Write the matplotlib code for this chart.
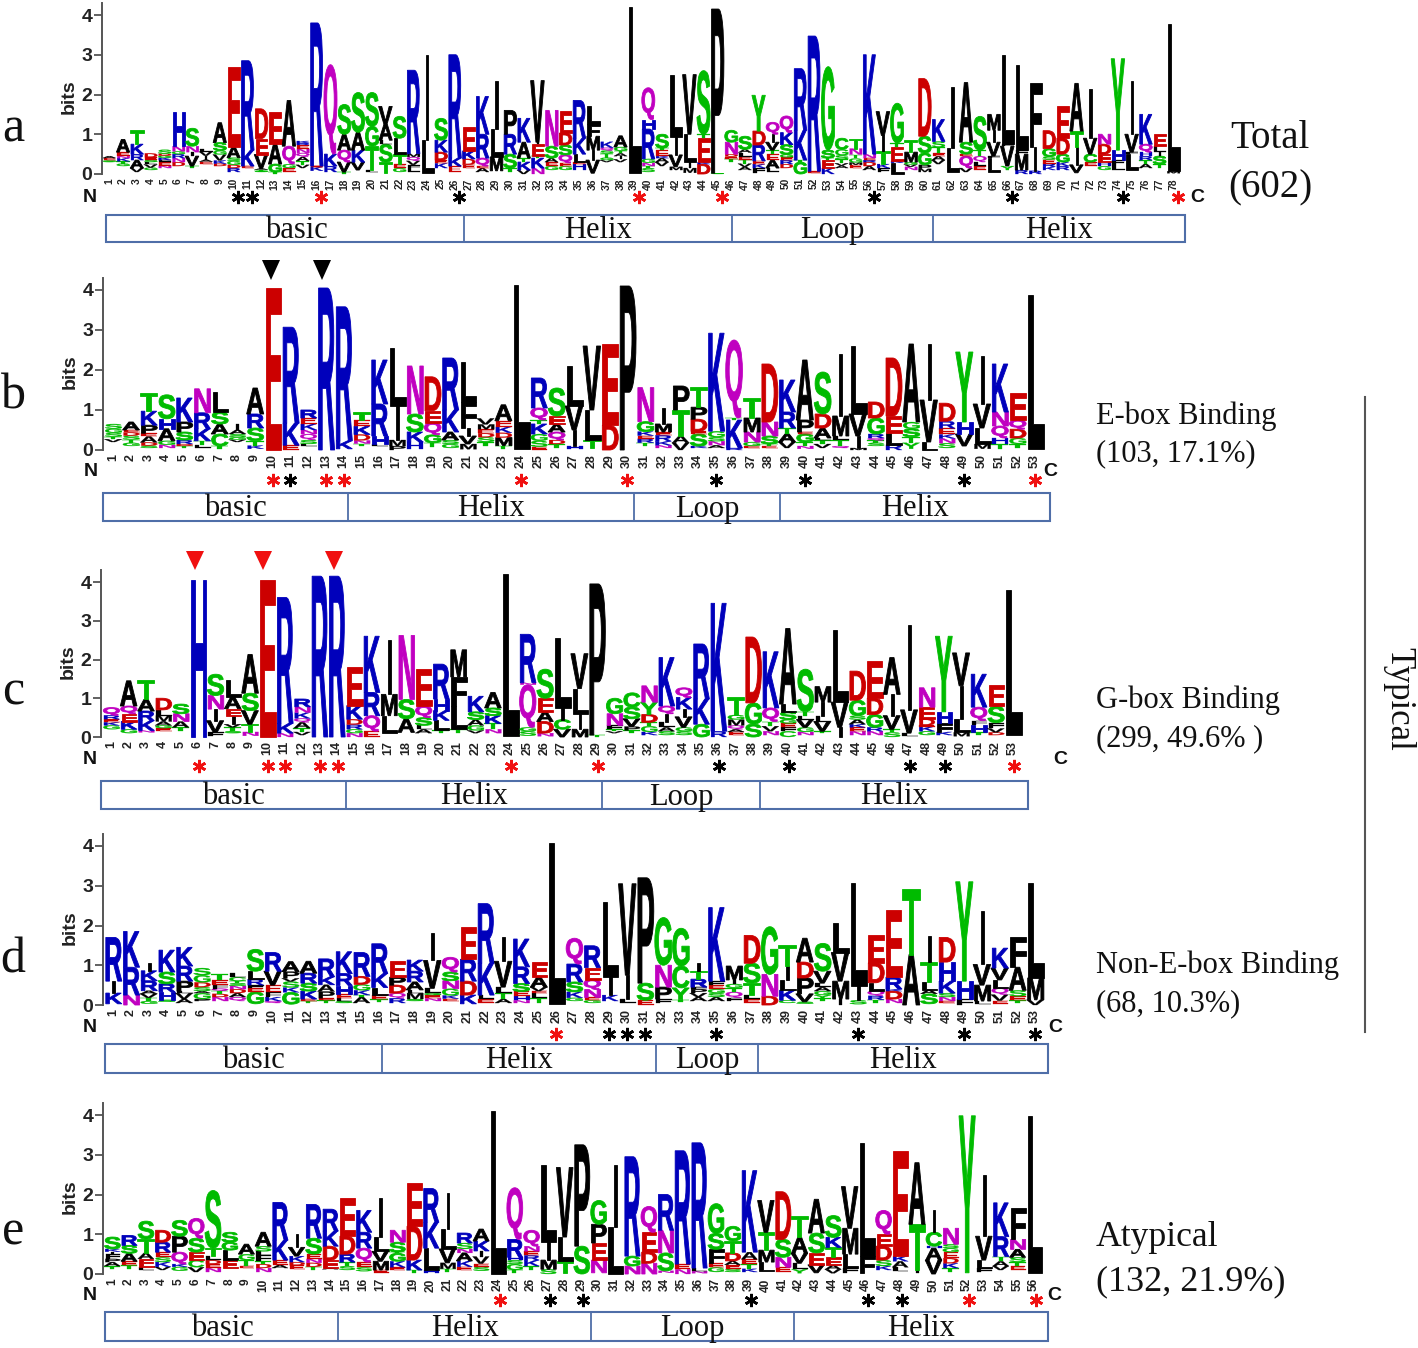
"""
bHLH sequence logos, five panels (a-e)
"""
import matplotlib
matplotlib.use('Agg')
import matplotlib.pyplot as plt
from matplotlib.font_manager import FontProperties
from matplotlib.patches import PathPatch, Rectangle, Polygon
from matplotlib.path import Path
from matplotlib.textpath import TextPath
from matplotlib.transforms import Affine2D
import numpy as np

# one string per column, letters listed bottom to top with their height in bits
# "_" is a gap where the tiny letters cannot be read
panel_a = [
    "_.3 S.04 E.06 A.05", "_.2 G.06 T.06 K.08 N.05 E.1 A.32", "_.05 V.1 A.2 R.15 K.25 T.35",
    "_.1 G.06 V.08 L.06 S.06 E.06 D.1", "_.15 N.06 E.08 F.06 K.06 G.05 D.05 S.1",
    "_.2 D.1 N.1 R.1 G.07 N.13 H.85", "_.15 T.05 V.25 I.1 N.15 S.45", "_.25 E.06 A.05 I.1 V.1 L.08",
    "_.2 D.06 K.08 V.15 G.1 S.2 A.5", "_.05 R.1 D.08 G.1 S.08 A.27 E2.0", "_.15 E.05 K.4 R2.25",
    "_.05 S.03 T.03 A.03 V.35 E.4 D.75", "T.05 G.2 A.5 E.8", "_.05 E.1 G.1 Q.45 A1.15",
    "_.15 V.08 T.1 A.1 Q.1 N.1 E.1 R.05 K.05", "_.08 K.1 E.02 R3.6", "_.05 R.15 K.3 Q2.25",
    "T.05 V.25 Q.3 A.4 S.75", "_.1 V.2 K.3 A.45 S1.0", "_.05 L.05 T.6 G.5 S.85",
    "_.03 T.27 S.45 L.1 A.4 V.45", "_.05 G.1 E.1 T.25 L.4 S.55", "_.05 L.08 F.1 V.1 Q.1 M.08 R2.1",
    "_.03 L.82 I2.15", "_.15 K.12 E.08 D.2 K.3 S.55", "_.05 E.15 K.2 R2.6", "_.15 E.08 D.15 K.2 E.6",
    "_.05 A.1 E.05 Q.2 R.6 K.95", "_.08 M.35 L.7 I1.2", "_.05 T.1 S.35 R.5 P.6", "V.1 K.2 T.1 A.4 K.6",
    "N.15 K.25 T.05 E.3 I.05 V1.55", "_.1 G.1 E.1 A.1 S.3 N.9", "_.1 G.1 E.08 Q.2 S.25 D.3 E.55",
    "_.1 H.15 E.05 L.2 K.4 R.95", "_.02 V.33 I.25 M.35 F.3 L.45", "_.3 V.05 G.06 T.1 S.08 Q.07 K.15",
    "_.3 V.07 I.08 A.07 T.06 G.1 A.28", "_.03 L4.17", "_.05 S.1 T.05 N.08 G.1 R.75 H.24 Q.8",
    "_.2 V.1 A.1 K.05 E.15 T.05 S.35", "_.1 M.08 V.3 I.45 L1.55", "_.03 M.12 I.15 L.7 V1.5",
    "D.25 K.05 E.6 T.1 S1.6", "G.02 P4.13", "_.3 T.08 E.06 D.06 N.3 G.3",
    "_.1 A.08 V.08 T.1 E.08 L.1 A.08 S.33", "_.03 F.12 K.1 E.08 R.4 D.35 Y.9", "_.05 L.1 A.2 E.15 T.1 V.2 I.2 Q.3",
    "_.15 D.1 R.1 E.07 G.07 S.25 K.3 Q.42", "G.3 T.05 K.75 R1.55", "_.02 E.05 R3.4", "K.15 E.2 T.05 S.2 G2.1",
    "_.15 A.06 V.06 T.1 S.1 G.15 C.28", "_.15 E.08 M.06 G.1 T.1 N.15 T.25", "_.1 A.1 D.1 R.05 E.05 N.1 K2.5",
    "_.05 F.1 K.1 T.32 I.4 V.6", "L.28 K.05 E.35 T.1 G1.0", "_.1 N.08 V.06 G.06 M.25 T.3",
    "_.05 M.08 P.1 G.3 S.42 D1.45", "_.25 V.1 A.1 E.07 T.15 S.15 K.55", "_.05 L.6 I1.55",
    "_.05 V.1 Q.3 E.05 S.3 A1.5", "_.1 E.1 L.1 Q.15 T.15 S.85", "_.05 L.35 F.05 V.35 I.3 M.4",
    "_.1 Y.1 V.5 F.05 L2.25", "R.1 M.4 F.1 L2.15", "R.08 I.6 F1.6", "_.1 K.08 R.08 E.1 S.08 G.2 D.45",
    "_.1 R.1 K.1 G.2 D.4 E.8", "_.03 V.2 I.45 T.4 A1.2", "_.2 E.1 C.2 V.4 I1.25",
    "_.1 G.1 H.1 E.2 D.25 N.25", "_.1 L.15 F.1 H.25 Y2.3", "_.1 L.4 F.05 V.45 I1.35",
    "_.15 A.1 T.1 R.1 H.1 Q.2 K.75", "_.15 T.1 S.2 I.1 L.15 E.3", "_.02 M.05 L3.7",
]

panel_b = [
    "_.2 V.07 T.06 S.1 G.1 S.12", "_.1 G.08 T.08 S.1 D.08 E.06 A.2", "_.05 S.06 D.08 A.15 E.08 P.2 K.35 T.45",
    "_.05 N.08 G.1 A.3 H.25 S.6", "_.05 T.05 D.05 R.1 S.2 P.25 K.6", "_.05 L.08 T.1 K.3 R.4 N.6",
    "_.03 T.07 C.3 A.25 S.3 L.5", "_.2 V.06 G.06 S.08 A.1 I.15", "_.03 K.08 T.12 S.32 R.35 A.65",
    "E4.05", "E.12 K.55 R2.4", "_.1 L.05 S.1 Q.15 N.1 K.15 E.15 R.2", "R4.05", "_.03 K.2 R3.35",
    "_.1 T.06 N.08 D.15 K.2 E.15 T.2", "_.1 L.05 H.2 R.8 K1.1", "P.1 M.15 I.85 L1.45",
    "_.03 H.17 K.25 S.45 N1.2", "_.08 T.1 G.2 Q.3 E.3 D.85", "_.05 G.1 S.1 A.2 K.55 R1.3",
    "_.02 M.13 V.2 I.2 F.65 L1.0", "_.1 T.1 S.12 D.1 E.1 M.12 V.15", "_.03 T.08 M.2 D.12 K.15 E.15 A.4",
    "_.03 L4.1", "E.08 S.15 G.17 K.25 T.1 Q.3 R.75", "_.05 T.1 D.1 Q.2 A.2 E.2 S.7", "_.03 H.07 I.4 V.6 L1.0",
    "_.05 T.2 L.75 V1.6", "D.62 E2.03", "P4.1", "_.1 T.08 R.1 E.08 K.1 G.25 N.85",
    "_.05 N.07 K.1 R.15 E.08 M.2 I.4", "V.18 A.17 T.65 P.6", "_.05 K.05 S.3 E.07 D.3 P.3 T.5",
    "_.05 A.07 N.1 S.1 G.15 K2.45", "R.05 K.7 T.05 Q1.95", "_.05 E.05 G.1 N.25 M.35 T.5",
    "_.05 E.05 T.05 S.2 N.35 D1.45", "_.05 V.15 A.2 T.15 R.4 K.8", "_.03 N.07 T.1 G.2 E.05 P.3 A1.5",
    "_.05 V.1 T.1 L.05 A.25 D.35 S1.05", "_.05 Q.05 T.15 L.1 M.5 I1.55", "M.05 I.3 V.55 L1.7",
    "_.1 S.08 T.06 Q.06 R.1 G.4 D.4", "R.13 L.3 E.42 D1.45", "_.03 Y.15 T.15 S.2 G.17 A1.95",
    "L.2 V1.05 I1.4", "_.05 S.12 N.12 K.1 E.15 R.18 D.45", "_.1 V.3 H.3 Y1.75", "_.03 M.12 L.4 V.6 I1.2",
    "_.03 T.12 H.15 Q.3 N.35 K1.2", "_.05 T.1 G.15 D.22 Q.23 E.67", "_.03 L3.85",
]

panel_c = [
    "_.2 G.1 K.08 E.08 R.1 Q.2", "_.1 G.1 K.2 E.2 Q.2 A.65", "_.12 N.05 K.25 R.25 A.3 T.5",
    "_.15 E.08 G.07 A.1 M.15 L.15 D.3", "_.15 T.1 A.15 N.2 S.25", "H4.05", "_.02 F.1 V.3 I.3 N.35 S.55",
    "_.1 S.05 T.1 V.08 I.2 E.2 A.3 L.45", "_.03 N.1 T.2 V.35 S.45 A1.0", "E4.05", "N.1 K.25 R3.25",
    "_.05 V.08 T.1 A.15 Q.1 K.15 N.15 R.2", "R4.15", "R4.15", "N.1 G.1 R.12 D.14 K.35 E1.0",
    "E.15 Q.4 R.6 K1.45", "_.1 L.45 M.55 I1.4", "_.12 A.35 S.5 N1.65", "_.1 A.1 L.1 S.2 Q.3 E.95",
    "_.1 T.08 L.25 K.25 H.3 R.9", "_.1 T.1 L.6 F.75 M.7", "_.1 V.07 G.13 A.15 S.2 K.4",
    "_.1 N.1 T.15 K.2 S.2 A.4", "_.02 L4.18", "_.03 S.12 G.1 Q1.1 N.05 R1.25", "_.02 N.08 D.3 A.25 E.35 S.75",
    "V.2 C.25 I.3 L1.8", "M.2 I.4 L.65 V.9", "T.05 P3.9", "_.1 V.05 T.05 F.1 N.3 G.4",
    "_.1 T.07 P.1 V.2 S.3 C.37", "_.05 K.08 G.15 T.1 D.2 Y.32 N.42", "_.05 S.1 A.1 L.15 I.2 Q.2 K1.25",
    "_.05 S.1 G.1 V.27 I.2 K.3 Q.25", "G.33 K.65 R1.42", "R.15 K3.3", "_.05 E.08 A.07 Q.1 M.15 G.12 T.45",
    "S.33 G.55 D1.7", "_.05 N.1 V.13 T.12 Q.35 K1.45", "C.15 F.1 E.1 G.1 S.2 L.2 A1.95",
    "_.05 N.08 G.12 V.2 L.1 T.1 S1.1", "_.1 T.05 V.25 L.15 I.35 M.4", "I.25 V.65 L1.85",
    "_.05 N.1 E.1 K.08 A.12 S.1 G.4 D.75", "_.05 N.1 R.1 G.33 D.42 E.95", "S.12 T.08 V.35 I.55 A.95",
    "_.02 L.08 V.6 I2.2", "_.05 G.1 K.12 E.03 D.17 E.3 N.5", "_.05 K.08 F.22 H.3 Y1.95",
    "_.02 M.1 L.35 I.85 V.85", "_.05 T.07 H.2 F.1 Q.35 K.85", "_.05 D.07 V.1 F.15 S.42 E.55", "_.05 L3.75",
]

panel_d = [
    "_.03 K.27 I.3 R1.1", "N.25 R.7 K.9", "_.03 G.07 T.08 V.1 A.08 R.25 K.25 I.2", "_.08 S.05 H.2 R.2 S.3 K.55",
    "_.05 A.1 V.15 L.05 P.25 R.38 K.47", "_.1 P.05 G.15 A.05 S.1 D.12 G.18 S.18",
    "_.1 N.1 D.08 T.08 Q.05 F.1 E.12 T.15", "_.1 Q.1 A.1 D.1 N.08 S.07 T.05 C.1 L.1",
    "_.03 G.3 E.1 F.07 R.15 L.2 S.55", "_.05 Q.05 K.1 F.12 E.18 V.35 R.47", "_.02 G.3 K.12 S.15 V.08 P.17 A.25",
    "_.05 T.05 E.05 K.2 S.2 R.25 A.3", "_.05 T.07 E.05 P.17 A.17 K.2 R.45", "_.05 S.05 L.07 E.1 H.22 R.3 K.55",
    "_.05 A.15 T.05 K.12 G.15 D.2 R.6", "_.07 T.07 E.1 L.2 K.35 R.75", "_.05 R.12 Q.13 D.2 P.2 E.4",
    "_.1 S.05 M.15 L.08 A.2 R.27 K.28", "_.1 N.07 E.08 G.05 L.12 V.7 I.7", "_.1 E.06 K.08 G.17 N.2 S.22 Q.37",
    "_.03 K.22 D.35 R.55 E.8", "_.05 E.1 L.1 K.8 R1.5", "_.05 A.1 T.15 L.15 V.65 I.62",
    "_.05 N.07 H.1 E.12 S.2 R.42 K.7", "_.05 T.12 L.13 E.05 V.1 A.25 E.38", "_.03 L4.05",
    "_.1 G.08 K.15 S.25 R.45 Q.65", "_.05 G.07 E.07 N.2 Q.25 E.3 R.55", "_.1 K.15 I.45 L1.9", "_.05 L.1 I.6 V2.3",
    "E.12 S.43 P2.65", "_.05 F.1 P.3 N.55 G1.2", "_.07 T.06 Y.3 C.55 G.95", "_.1 A.1 V.1 P.1 F.05 R.2 T.2 I.2",
    "_.1 A.1 S.1 G.1 E.1 F.1 K1.85", "_.1 F.08 Q.15 T.1 G.1 I.1 M.35", "_.05 E.1 L.1 T.3 S.5 D.7",
    "D.22 N.55 G1.2", "_.05 C.07 K.25 L.25 I.35 T.55", "_.03 S.05 V.2 P.4 D.4 A.6",
    "_.1 T.07 Y.08 G.1 A.1 L.1 V.3 S.7", "I.15 M.45 V.72 L.75", "_.02 S.1 I.35 L2.6",
    "_.05 T.08 R.1 Q.13 L.2 D.5 E.7", "_.05 N.1 D.2 K.05 R.3 E1.7", "A1.27 T1.65", "_.03 S.25 A.1 L.2 T.5 I.65",
    "_.05 E.05 N.1 S.1 K.3 H.48 D.62", "F.15 H.45 Y2.5", "_.02 L.08 M.4 V.52 I1.35",
    "_.03 E.08 V.15 Q.17 L.2 V.3 K.5", "_.05 T.07 E.1 S.15 A.58 F.75", "V.13 M.55 L2.4",
]

panel_e = [
    "_.12 T.08 A.1 P.08 F.12 I.06 K.07 S.3", "_.12 T.1 E.1 A.2 S.2 R.25", "_.1 L.08 E.2 A.15 T.35 S.45",
    "_.1 V.08 K.12 S.12 E.13 R.25 D.3", "_.08 G.1 K.07 Q.3 P.4 S.4", "_.05 V.12 C.18 E.2 S.35 Q.5",
    "_.05 N.1 E.1 D.1 L.1 T.2 S1.45", "_.15 E.2 L.25 G.2 S.25", "_.15 E.05 T.15 G.15 A.25",
    "_.05 N.1 D.1 T.07 F.15 L.1 S.13 A.35", "_.15 A.08 E.12 K.5 R.95", "_.12 E.1 D.08 K.15 V.22 I.33",
    "_.1 T.08 D.1 N.1 E.12 S.4 R.85", "_.12 A.03 E.2 D.35 K.38 R.55", "_.1 S.1 T.1 R.2 D.45 E.95",
    "_.07 S.1 E.13 Q.35 R.4 K.55", "_.03 E.07 M.22 V.25 L.35 I1.0", "_.1 E.07 K.15 G.2 T.03 S.25 N.3",
    "_.03 T.07 K.25 D.85 E1.1", "_.03 H.07 L.55 K.65 R.85", "_.05 T.08 M.15 V.35 L.5 I.9",
    "_.1 E.08 K.15 A.2 N.1 S.15 R.25", "_.08 S.1 E.08 V.18 I.14 K.25 A.3", "L4.1",
    "_.03 T.07 G.15 S.1 H.07 R.45 Q1.3", "_.1 T.1 K.15 R.12 E.1 N.13 Q.4", "S.12 M.23 I.45 L1.95",
    "_.03 T.3 L.6 V1.75", "S.7 P2.55", "_.03 N.32 E.43 P.47 G.6", "L1.17 I1.58", "N.2 G.25 R2.5",
    "N.27 D.28 E.5 Q.65", "_.03 N.05 S.45 N.57 R.9", "N.12 E.13 R2.85", "_.02 N.05 L.08 R3.15",
    "_.05 G.12 E.1 F.35 S.4 G.75", "_.05 S.08 E.1 A.1 D.2 T.3 G.37", "_.05 K.08 T.12 E.12 A.18 K2.05",
    "_.07 L.23 M.3 T.45 V.8", "_.05 E.12 N.25 S.45 D1.2", "_.02 Y.1 L.15 V.25 A.4 T.55",
    "_.03 V.2 E.3 S.5 A.85", "_.02 V.1 A.1 E.2 T.25 K.25 S.55", "_.03 F.12 L.35 M.65 V1.05", "_.03 F.42 L2.85",
    "_.1 K.1 S.15 D.35 E.3 Q.6", "_.07 L.1 A.15 K.13 E2.65", "_.02 I.08 T1.15 A1.55", "V.35 A.3 H.05 C.35 I.55",
    "_.05 T.1 K.12 D.13 E.15 G.1 S.1 N.4", "_.03 Y3.95", "_.05 F.1 L.2 V.6 I1.55", "_.1 V.1 A.12 T.12 R.5 K.85",
    "_.1 E.1 T.1 S.12 A.2 N.25 F.8", "_.03 L3.95",
]

# 标记的位点
stars_a = {'black': [10, 11, 26, 56, 66, 74], 'red': [16, 39, 45, 78]}
stars_b = {'black': [11, 35, 40, 49], 'red': [10, 13, 14, 24, 30, 53]}
stars_c = {'black': [36, 40, 47, 49], 'red': [6, 10, 11, 13, 14, 24, 29, 53]}
stars_d = {'black': [29, 30, 31, 35, 43, 49, 53], 'red': [26]}
stars_e = {'black': [27, 29, 39, 46, 48], 'red': [24, 52, 56]}

region_names = ['basic', 'Helix', 'Loop', 'Helix']

# layout in picture pixels
W, H = 1418, 1348
panels = [
    dict(cols=panel_a, stars=stars_a, axis_x=102, zero=174, four=15, x1=109, xn=1173, tick_fs=7.4, star_y=197, star_dx=5,
         box=(106, 464, 732, 933, 1185), box_y=(215, 242), basic_dx=11, n=(90, 198), c=(1197, 198), tag='a', tag_y=129),
    dict(cols=panel_b, stars=stars_b, axis_x=103, zero=450, four=290, x1=113, xn=1035, tick_fs=9, star_y=480, star_dx=0,
         box=(103, 348, 634, 780, 1050), box_y=(493, 521), basic_dx=10, n=(91, 472), c=(1050, 472), tag='b', tag_y=396),
    dict(cols=panel_c, stars=stars_c, axis_x=101, zero=737, four=582, x1=111, xn=1013, tick_fs=9, star_y=766, star_dx=1,
         box=(101, 346, 602, 760, 1028), box_y=(781, 809), basic_dx=10, n=(90, 760), c=(1060, 759), tag='c', tag_y=692),
    dict(cols=panel_d, stars=stars_d, axis_x=103, zero=1005, four=846, x1=113, xn=1035, tick_fs=9, star_y=1034, star_dx=0,
         box=(105, 382, 656, 758, 1048), box_y=(1044, 1073), basic_dx=10, n=(90, 1028), c=(1055, 1028), tag='d', tag_y=960),
    dict(cols=panel_e, stars=stars_e, axis_x=103, zero=1274, four=1115, x1=112, xn=1034, tick_fs=8.6, star_y=1300, star_dx=2,
         box=(105, 338, 591, 794, 1048), box_y=(1312, 1341), basic_dx=1, n=(90, 1296), c=(1054, 1296), tag='e', tag_y=1232),
]

# WebLogo chemistry colours
green, purple, blue, red = '#00BB00', '#C000C0', '#0000BB', '#CC0000'
letter_colors = {}
for k in 'GSTYC':
    letter_colors[k] = green
for k in 'NQ':
    letter_colors[k] = purple
for k in 'KRH':
    letter_colors[k] = blue
for k in 'DE':
    letter_colors[k] = red
for k in 'AVLIPWFM':
    letter_colors[k] = 'black'

logo_font = FontProperties(family='Liberation Sans', weight='bold')
glyphs = {}


def unit_glyph(letter):
    """字母路径缩放到单位方框"""
    if letter not in glyphs:
        p = TextPath((0, 0), letter, size=1, prop=logo_font)
        v = p.vertices
        lo, hi = v.min(axis=0), v.max(axis=0)
        glyphs[letter] = Path((v - lo) / (hi - lo), p.codes)
    return glyphs[letter]


def draw_column(ax, pos, stack):
    y = 0.0
    for item in stack.split():
        letter, height = item[0], float(item[1:])
        if letter != '_':
            width = 0.24 if letter == 'I' else 1.0
            tr = Affine2D().scale(width, height).translate(pos - width / 2, y)
            colour = letter_colors[letter]
            # 笔画略加粗
            ax.add_patch(PathPatch(unit_glyph(letter).transformed(tr), fc=colour, ec=colour,
                                   lw=0.2 if height < 0.2 else 0.6, clip_on=False))
        y += height


def draw_panel(fig, page, cfg):
    n_cols = len(cfg['cols'])
    dx = (cfg['xn'] - cfg['x1']) / (n_cols - 1)
    ppb = (cfg['zero'] - cfg['four']) / 4
    right = cfg['xn'] + dx / 2
    top = cfg['zero'] - 4.3 * ppb
    ax = fig.add_axes([cfg['axis_x'] / W, 1 - cfg['zero'] / H,
                       (right - cfg['axis_x']) / W, (cfg['zero'] - top) / H])
    ax.patch.set_alpha(0)
    ax.set_xlim(1 - (cfg['x1'] - cfg['axis_x']) / dx, n_cols + 0.5)
    ax.set_ylim(0, 4.3)
    for i, stack in enumerate(cfg['cols']):
        draw_column(ax, i + 1, stack)

    for s in ['top', 'right', 'bottom']:
        ax.spines[s].set_visible(False)
    ax.spines['left'].set_color('#555555')
    ax.spines['left'].set_linewidth(1.4)
    ax.set_yticks(range(5))
    ax.set_yticklabels([str(i) for i in range(5)], fontsize=14, fontweight='bold', color='#222222',
                       family='Liberation Sans')
    ax.tick_params(axis='y', length=6, width=1.3, color='#555555', pad=1)
    ax.set_xticks(np.arange(1, n_cols + 1))
    ax.set_xticklabels([str(i) for i in range(1, n_cols + 1)], rotation=90, fontsize=cfg['tick_fs'],
                       fontweight='bold', family='Liberation Sans', color='#222222', va='top')
    ax.tick_params(axis='x', length=0, pad=3)
    ax.text(cfg['axis_x'] - 33, cfg['zero'] - 1.95 * ppb, 'bits', rotation=90, ha='center', va='center',
            fontsize=14, fontweight='bold', family='Liberation Sans', color='#222222',
            transform=page.transData)

    # N / C 端和星号
    for key, label in [('n', 'N'), ('c', 'C')]:
        page.text(cfg[key][0], cfg[key][1], label, ha='center', va='center', fontsize=14,
                  fontweight='bold', family='Liberation Sans', color='#111111')
    for colour, key in [('black', 'black'), ('#F01010', 'red')]:
        xs = [cfg['x1'] + (c - 1) * dx + cfg['star_dx'] for c in cfg['stars'][key]]
        page.plot(xs, [cfg['star_y']] * len(xs), ls='none', marker=(6, 2, 0), ms=9.5, mew=1.9,
                  color=colour, mec=colour)

    # 区段方框
    edges = cfg['box']
    y0, y1 = cfg['box_y']
    page.add_patch(Rectangle((edges[0], y0), edges[-1] - edges[0], y1 - y0, fc='white',
                             ec='#4F6EA8', lw=1.5))
    for e in edges[1:-1]:
        page.plot([e, e], [y0, y1], color='#4F6EA8', lw=1.3)
    for j, name in enumerate(region_names):
        shift = cfg['basic_dx'] if j == 0 else 0
        page.text((edges[j] + edges[j + 1]) / 2 + shift, (y0 + y1) / 2 + 2, name, ha='center', va='center',
                  fontsize=22, family='Liberation Serif', color='#111111')
    page.text(13, cfg['tag_y'], cfg['tag'], ha='center', va='center', fontsize=36,
              family='Liberation Serif', color='#111111')


def main():
    fig = plt.figure(figsize=(W / 100, H / 100), dpi=100)
    page = fig.add_axes([0, 0, 1, 1])
    page.set_xlim(0, W)
    page.set_ylim(H, 0)
    page.axis('off')

    for cfg in panels:
        draw_panel(fig, page, cfg)

    # 三角标记
    for x in [271, 322]:
        page.add_patch(Polygon([(x - 9, 260), (x + 9, 260), (x, 280)], fc='black', ec='none'))
    for x in [195, 263, 334]:
        page.add_patch(Polygon([(x - 9, 551), (x + 9, 551), (x, 570)], fc='#F01010', ec='none'))

    # 右侧文字
    serif = dict(family='Liberation Serif', color='#111111', va='center', ha='left')
    page.text(1230, 138, 'Total', fontsize=28, **serif)
    page.text(1228, 188, '(602)', fontsize=28, **serif)
    for x, y, s in [(1096, 416, 'E-box Binding'), (1096, 454, '(103, 17.1%)'),
                    (1096, 700, 'G-box Binding'), (1096, 739, '(299, 49.6% )'),
                    (1096, 965, 'Non-E-box Binding'), (1096, 1004, '(68, 10.3%)')]:
        page.text(x, y, s, fontsize=22, **serif)
    page.text(1096, 1237, 'Atypical', fontsize=25.7, **serif)
    page.text(1096, 1282, '(132, 21.9%)', fontsize=26, **serif)
    page.plot([1365, 1365], [397, 1032], color='#555555', lw=1.5)
    page.text(1399, 699, 'Typical', rotation=270, fontsize=25, family='Liberation Serif',
              color='#111111', ha='center', va='center')

    fig.savefig('out.png', dpi=100, facecolor='white')
    plt.close(fig)


if __name__ == '__main__':
    main()
